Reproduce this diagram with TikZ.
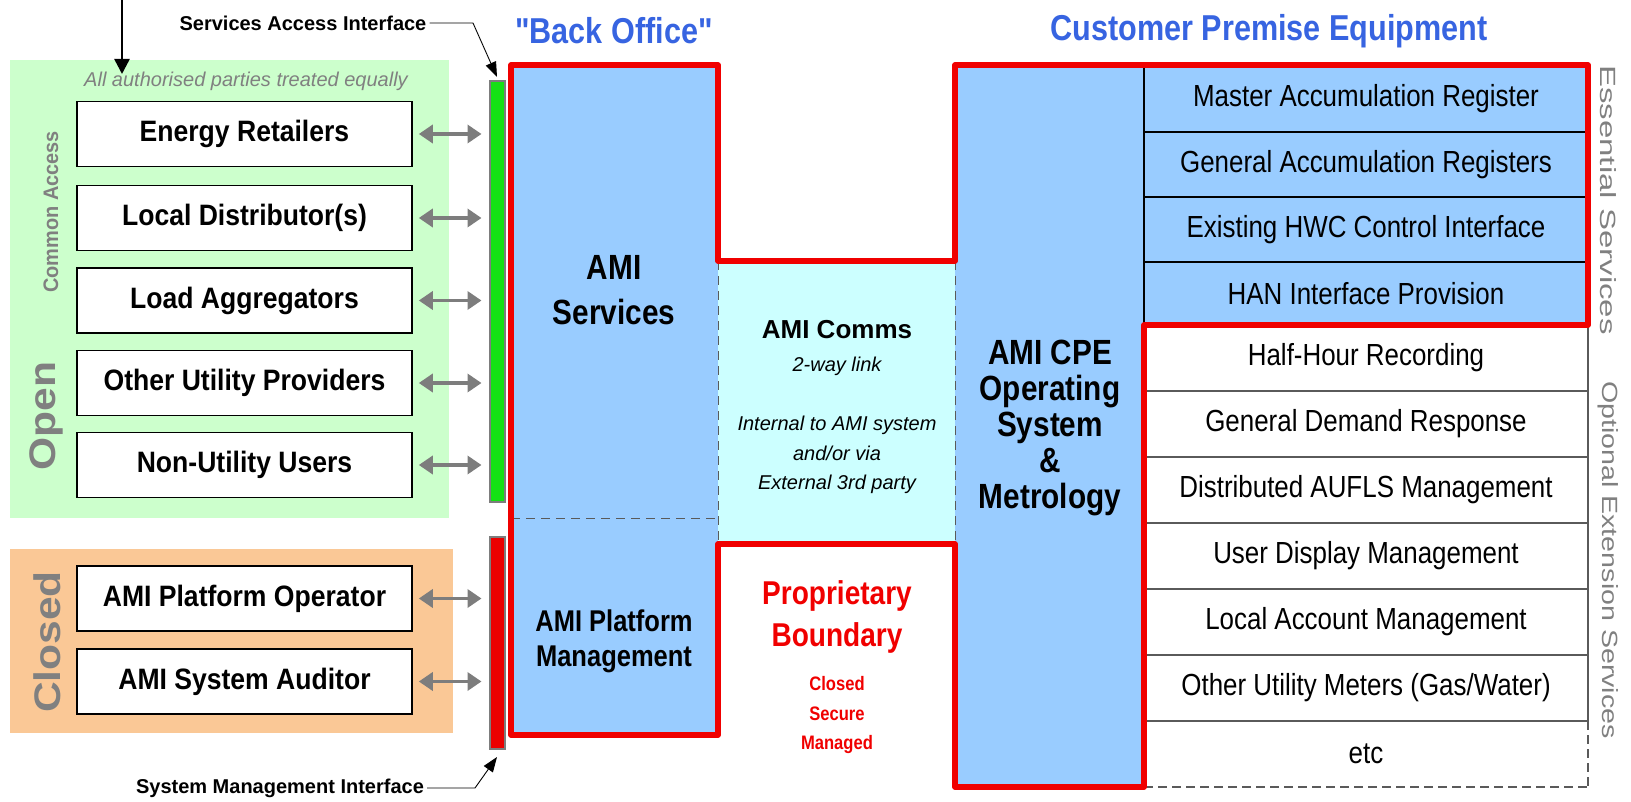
\documentclass[tikz,border=0pt]{standalone}
\usepackage{fontspec}
\setmainfont{Liberation Sans}
\newfontfamily\nar[FakeStretch=0.85]{Liberation Sans}
\newfontfamily\narb[FakeStretch=0.9]{Liberation Sans}
\usetikzlibrary{arrows.meta}
\definecolor{hdrblue}{RGB}{55,100,225}
\definecolor{txtgray}{RGB}{128,128,128}
\definecolor{arrgray}{RGB}{125,125,125}
\definecolor{panelgreen}{RGB}{204,255,204}
\definecolor{panelorange}{RGB}{250,200,150}
\definecolor{barGreen}{RGB}{20,225,20}
\definecolor{barRed}{RGB}{235,0,0}
\definecolor{amiblue}{RGB}{153,204,255}
\definecolor{commscyan}{RGB}{204,255,255}
\definecolor{bndred}{RGB}{240,0,0}
\definecolor{linegray}{RGB}{90,90,90}
\newcommand{\fsz}[2]{\fontsize{#1}{#2}\selectfont}
\begin{document}
\begin{tikzpicture}[x=1pt,y=-1pt,
  partybox/.style={draw=black, line width=1.6pt, fill=white, minimum width=335pt, minimum height=65pt, inner sep=0pt, font=\narb\bfseries\fsz{29.5}{33}},
  twoway/.style={draw=arrgray, line width=3.5pt, {Triangle[length=14pt,width=18pt]}-{Triangle[length=14pt,width=18pt]}, shorten <=6pt, shorten >=7pt},
  ifbar/.style={draw=arrgray, line width=2pt, minimum width=15pt, inner sep=0pt},
  ifline/.style={draw=black, line width=0.9pt, -{Triangle[length=15pt,width=11pt]}},
  iflabel/.style={font=\bfseries\fsz{20}{24}, inner sep=3pt},
  header/.style={font=\nar\bfseries\fsz{36}{40}, text=hdrblue},
  sidelabel/.style={text=txtgray, inner sep=0pt},
  rowtxt/.style={font=\nar\fsz{30.5}{34}, inner sep=0pt},
  rowline/.style={draw=black, line width=1.2pt},
  optline/.style={draw=linegray, line width=1.2pt},
  optdash/.style={draw=linegray, line width=1.2pt, dash pattern=on 9pt off 5pt},
  thindash/.style={draw=linegray, line width=0.9pt, dash pattern=on 9pt off 6pt},
  redoutline/.style={draw=bndred, line width=5.5pt, line join=round},
  bigbold/.style={font=\nar\bfseries\fsz{35}{45}, align=center},
]
\useasboundingbox (0,0) rectangle (1631,802);

% ---------- left panels ----------
\fill[panelgreen] (10,60) rectangle (449,518);
\fill[panelorange] (10,549) rectangle (453,733);

\node[font=\itshape\fsz{20}{24}, text=txtgray] (alltxt) at (246,81) {All authorised parties treated equally};

\node[partybox] (er)  at (244.5,134)   {Energy Retailers};
\node[partybox] (ld)  at (244.5,218)   {Local Distributor(s)};
\node[partybox] (la)  at (244.5,300.5) {Load Aggregators};
\node[partybox] (ou)  at (244.5,383)   {Other Utility Providers};
\node[partybox] (nu)  at (244.5,465)   {Non-Utility Users};
\node[partybox] (apo) at (244.5,598.5) {AMI Platform Operator};
\node[partybox] (asa) at (244.5,681.5) {AMI System Auditor};

\node[sidelabel, rotate=90, font=\bfseries\fsz{21}{23}] (common) at (51,212) {\scalebox{0.95}[1]{Common Access}};
\node[sidelabel, rotate=90, font=\bfseries\fsz{37}{40}] (open) at (46,416) {\scalebox{1.15}[1]{Open}};
\node[sidelabel, rotate=90, font=\bfseries\fsz{37}{40}] (closed) at (47,642) {\scalebox{1.15}[1]{Closed}};

% ---------- interface bars ----------
\node[ifbar, fill=barGreen, minimum height=421pt] (greenbar) at (497,291.5) {};
\node[ifbar, fill=barRed, minimum height=212pt] (redbar) at (497,643) {};

\foreach \b in {er,ld,la,ou,nu}{
  \draw[twoway] (\b.east) -- (\b.east -| greenbar.west);
}
\foreach \b in {apo,asa}{
  \draw[twoway] (\b.east) -- (\b.east -| redbar.west);
}

% top arrow
\coordinate (topin) at (122,-2);
\coordinate (topout) at (122,74);
\draw[line width=2.5pt, -{Triangle[length=15pt,width=15pt]}] (topin) -- (topout);

% interface labels
\node[iflabel] (sai) at (303,23) {Services Access Interface};
\coordinate (saibend) at (473,23);
\draw[ifline] (sai.east) -- (saibend) -- ([yshift=3pt]greenbar.north);

\node[iflabel] (smi) at (280,788) {System Management Interface};
\coordinate (smibend) at (475,788);
\draw[ifline] (smi.east) -- (smibend) -- ([yshift=-7pt]redbar.south);

% ---------- headers ----------
\node[header] (hbo) at (614,31) {"Back Office"};
\node[header] (hcpe) at (1269,31) {Customer Premise Equipment};

% ---------- back office / comms / CPE fills ----------
\fill[amiblue] (511,65) rectangle (718,735);
\fill[commscyan] (718,261) rectangle (955,544);
\fill[amiblue] (955,65) rectangle (1144,787);
\fill[amiblue] (1144,65) rectangle (1588,325);
\fill[white] (1144,325) rectangle (1588,787);

\draw[thindash] (511,518) -- (718,518);
\draw[thindash] (718,261) -- (718,544);
\draw[thindash] (955,261) -- (955,544);

% essential rows
\draw[rowline] (1144,65) -- (1144,325);
\foreach \yy in {132,197,262}{ \draw[rowline] (1144,\yy) -- (1588,\yy); }
% optional rows
\foreach \yy in {391,457,523,589,655,721}{ \draw[optline] (1144,\yy) -- (1588,\yy); }
\draw[optline] (1588,325) -- (1588,721);
\draw[optdash] (1588,721) -- (1588,787);
\draw[optdash] (1144,787) -- (1588,787);

% red boundary
\draw[redoutline] (511,65) -- (718,65) -- (718,261) -- (955,261) -- (955,65) -- (1588,65)
  -- (1588,325) -- (1144,325) -- (1144,787) -- (955,787) -- (955,544) -- (718,544)
  -- (718,735) -- (511,735) -- cycle;

% ---------- texts ----------
\node[bigbold] (amisvc) at (614,290) {AMI\\Services};
\node[font=\nar\bfseries\fsz{30}{35}, align=center] (amipm) at (614,641) {AMI Platform\\Management};

\node[font=\bfseries\fsz{26}{30}] (comms) at (837,330) {AMI Comms};
\node[font=\itshape\fsz{20}{24}] (commsub) at (837,366) {2-way link};
\node[font=\itshape\fsz{20}{29.5}, align=center] (commdesc) at (837,455) {Internal to AMI system\\and/or via\\External 3rd party};

\node[font=\nar\bfseries\fsz{33}{42}, text=bndred, align=center] (prop) at (837,617) {Proprietary\\Boundary};
\node[font=\nar\bfseries\fsz{19.5}{29.5}, text=bndred, align=center] (propsub) at (837,715) {Closed\\Secure\\Managed};

\node[font=\nar\bfseries\fsz{35}{36}, align=center] (cpe) at (1050,428) {AMI CPE\\Operating\\System\\\&\\Metrology};

\node[rowtxt] (r1) at (1366,98.5) {Master Accumulation Register};
\node[rowtxt] (r2) at (1366,164.5) {General Accumulation Registers};
\node[rowtxt] (r3) at (1366,229.5) {Existing HWC Control Interface};
\node[rowtxt] (r4) at (1366,293.5) {HAN Interface Provision};
\node[rowtxt] (o1) at (1366,358) {Half-Hour Recording};
\node[rowtxt] (o2) at (1366,424) {General Demand Response};
\node[rowtxt] (o3) at (1366,490) {Distributed AUFLS Management};
\node[rowtxt] (o4) at (1366,556) {User Display Management};
\node[rowtxt] (o5) at (1366,622) {Local Account Management};
\node[rowtxt] (o6) at (1366,688) {Other Utility Meters (Gas/Water)};
\node[rowtxt] (o7) at (1366,754) {etc};

\node[sidelabel, rotate=-90, font=\fsz{22}{24}] (ess) at (1608,200) {\scalebox{1.5}[1]{Essential Services}};
\node[sidelabel, rotate=-90, font=\fsz{22}{24}] (opt) at (1608,560) {\scalebox{1.3}[1]{Optional Extension Services}};
\end{tikzpicture}
\end{document}
